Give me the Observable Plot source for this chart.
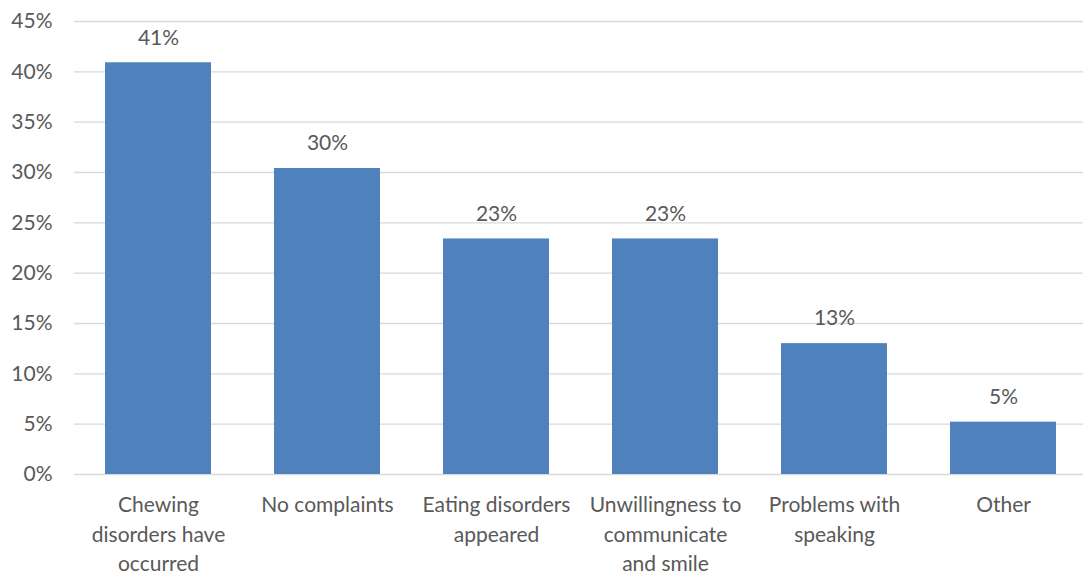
<!DOCTYPE html>
<html>
<head>
<meta charset="utf-8">
<script src="https://cdn.jsdelivr.net/npm/d3@7"></script>
<script src="https://cdn.jsdelivr.net/npm/@observablehq/plot@0.6"></script>
<style>
  html, body { margin: 0; padding: 0; background: #fff; }
  #chart { width: 1086px; height: 574px; }
  svg { font-family: Lato, "Open Sans", sans-serif; }
</style>
</head>
<body>
<div id="chart"></div>
<script>
// Share of respondents per reported complaint (percent)
const categories = [
  "Chewing disorders have occurred",
  "No complaints",
  "Eating disorders appeared",
  "Unwillingness to communicate and smile",
  "Problems with speaking",
  "Other"
];
// Axis labels, wrapped onto lines
const tickLabels = [
  "Chewing\ndisorders have\noccurred",
  "No complaints",
  "Eating disorders\nappeared",
  "Unwillingness to\ncommunicate\nand smile",
  "Problems with\nspeaking",
  "Other"
];
const values = [40.9, 30.4, 23.4, 23.4, 13.0, 5.2];
const yTicks = [0, 5, 10, 15, 20, 25, 30, 35, 40, 45];

const data = categories.map((c, i) => ({category: c, label: tickLabels[i], value: values[i]}));
const textColor = "#595959";
const fontSize = 21;

const chart = Plot.plot({
  width: 1086,
  height: 574,
  marginLeft: 74,
  marginRight: 3,
  marginTop: 21,
  marginBottom: 100,
  style: {fontFamily: "Lato, 'Open Sans', sans-serif", color: textColor, background: "#fff"},
  x: {domain: categories, range: [74, 1088], paddingInner: 0.37, paddingOuter: 0.185, axis: null},
  y: {domain: [0, 45], axis: null},
  marks: [
    Plot.ruleY(yTicks, {stroke: "#d9d9d9", strokeWidth: 1.3}),
    Plot.axisY(yTicks, {
      tickSize: 0, tickPadding: 22, fontSize, fill: textColor,
      tickFormat: d => d + "%", label: null
    }),
    Plot.barY(data, {x: "category", y: "value", fill: "#4f81bd"}),
    Plot.text(data, {
      x: "category", y: "value", text: d => Math.round(d.value) + "%",
      dy: -25, fontSize, fill: textColor
    }),
    Plot.text(data, {
      x: "category", y: () => 0, text: "label",
      lineAnchor: "top", lineHeight: 1.4, dy: 17, fontSize, fill: textColor
    })
  ]
});
document.getElementById("chart").appendChild(chart);
</script>
</body>
</html>
